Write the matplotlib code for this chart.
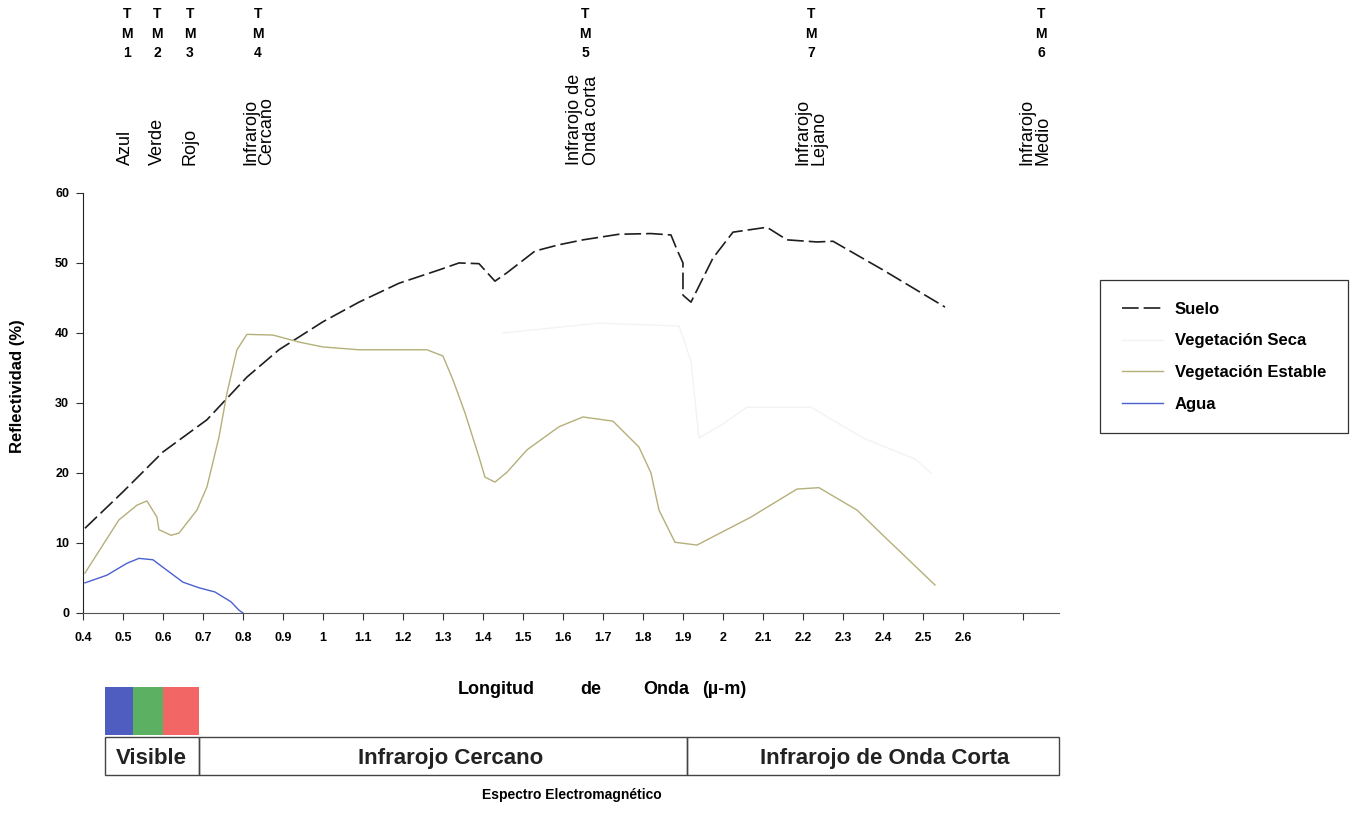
import matplotlib
matplotlib.use("Agg")
import matplotlib.pyplot as plt
from matplotlib.patches import Rectangle
from matplotlib.transforms import blended_transform_factory

# curvas de reflectividad
suelo_x = [0.405, 0.5, 0.6, 0.71, 0.81, 0.89, 1.0, 1.09, 1.19, 1.29, 1.34, 1.39, 1.43, 1.46, 1.53,
           1.59, 1.65, 1.74, 1.82, 1.87, 1.885, 1.9, 1.9, 1.92, 1.975, 2.025, 2.11, 2.16, 2.235,
           2.275, 2.4, 2.555]
suelo_y = [12.1, 17.3, 23.0, 27.6, 33.7, 37.6, 41.6, 44.4, 47.1, 49.0, 50.0, 49.9, 47.4, 48.6, 51.7,
           52.6, 53.3, 54.1, 54.2, 54.0, 51.9, 50.0, 45.4, 44.4, 50.7, 54.4, 55.1, 53.3, 53.0,
           53.1, 49.0, 43.7]

veg_seca_x = [1.45, 1.69, 1.89, 1.92, 1.94, 2.0, 2.06, 2.22, 2.35, 2.48, 2.52]
veg_seca_y = [40.0, 41.4, 41.0, 36.0, 25.0, 27.0, 29.4, 29.4, 25.0, 22.0, 20.0]

veg_est_x = [0.405, 0.49, 0.535, 0.56, 0.585, 0.59, 0.62, 0.64, 0.685, 0.71, 0.74, 0.76, 0.785,
             0.81, 0.875, 0.94, 1.0, 1.09, 1.26, 1.3, 1.325, 1.355, 1.39, 1.405, 1.43, 1.46, 1.51,
             1.59, 1.65, 1.725, 1.79, 1.82, 1.84, 1.88, 1.935, 2.07, 2.185, 2.24, 2.335, 2.4, 2.53]
veg_est_y = [5.7, 13.3, 15.4, 16.0, 13.7, 11.9, 11.1, 11.4, 14.7, 18.0, 25.1, 31.4, 37.6,
             39.8, 39.7, 38.7, 38.0, 37.6, 37.6, 36.7, 33.3, 28.6, 22.3, 19.4, 18.7, 20.1, 23.3,
             26.6, 28.0, 27.4, 23.7, 20.0, 14.7, 10.1, 9.7, 13.7, 17.7, 17.9, 14.7, 11.1, 4.0]

agua_x = [0.405, 0.46, 0.51, 0.54, 0.575, 0.61, 0.65, 0.69, 0.73, 0.77, 0.79, 0.8]
agua_y = [4.3, 5.4, 7.1, 7.8, 7.6, 6.1, 4.4, 3.6, 3.0, 1.6, 0.4, 0.0]

# ejes
xticks = [0.4, 0.5, 0.6, 0.7, 0.8, 0.9, 1.0, 1.1, 1.2, 1.3, 1.4, 1.5, 1.6, 1.7, 1.8, 1.9,
          2.0, 2.1, 2.2, 2.3, 2.4, 2.5, 2.6, 2.75]
xtick_labels = ["0.4", "0.5", "0.6", "0.7", "0.8", "0.9", "1", "1.1", "1.2", "1.3", "1.4", "1.5",
                "1.6", "1.7", "1.8", "1.9", "2", "2.1", "2.2", "2.3", "2.4", "2.5", "2.6", ""]
yticks = [0, 10, 20, 30, 40, 50, 60]

# bandas TM arriba
tm_labels = ["T\nM\n1", "T\nM\n2", "T\nM\n3", "T\nM\n4", "T\nM\n5", "T\nM\n7", "T\nM\n6"]
tm_x = [0.51, 0.585, 0.6675, 0.8375, 1.655, 2.22, 2.795]
region_labels = ["Azul", "Verde", "Rojo", "Infrarojo\nCercano", "Infrarojo de\nOnda corta",
                 "Infrarojo\nLejano", "Infrarojo\nMedio"]
region_x = [0.5075, 0.585, 0.668, 0.84, 1.65, 2.22, 2.78]

# titulo del eje x, palabras separadas
xlabel_words = ["Longitud", "de", "Onda", "(µ-m)"]
xlabel_px = [496, 591, 666, 724]

# espectro abajo
swatch_edges = [0.455, 0.525, 0.6, 0.69]
swatch_colors = ["#4f5cc0", "#5cb062", "#f26666"]
band_edges = [0.455, 0.69, 1.91, 2.84]
band_labels = ["Visible", "Infrarojo Cercano", "Infrarojo de Onda Corta"]
band_label_x = [0.57, 1.32, 2.405]

plt.rcParams["font.family"] = ["Liberation Sans", "DejaVu Sans"]

fig = plt.figure(figsize=(13.53, 8.26), dpi=100)
ax = fig.add_axes([0.0613, 0.2579, 0.7214, 0.5085])

ax.plot(suelo_x, suelo_y, color="#1e1e1e", lw=1.2, linestyle=(0, (10, 3)), label="Suelo")
ax.plot(veg_seca_x, veg_seca_y, color="#f3f3f3", lw=1.0, label="Vegetación Seca")
ax.plot(veg_est_x, veg_est_y, color="#b5af7a", lw=1.0, label="Vegetación Estable")
ax.plot(agua_x, agua_y, color="#4a60d0", lw=1.0, label="Agua")

ax.set_xlim(0.4, 2.84)
ax.set_ylim(0, 60)
ax.spines["top"].set_visible(False)
ax.spines["right"].set_visible(False)
ax.spines["left"].set_color("#222222")
ax.spines["bottom"].set_color("#555555")
ax.set_xticks(xticks)
ax.set_xticklabels(xtick_labels, fontsize=9, fontweight="bold")
ax.set_yticks(yticks)
ax.set_yticklabels([str(v) for v in yticks], fontsize=9, fontweight="bold")
ax.tick_params(axis="x", direction="out", length=5, pad=9, color="#333333")
ax.tick_params(axis="y", direction="out", length=5, pad=5, color="#333333")

leg = ax.legend(loc="upper left", bbox_to_anchor=(1100 / 1353, 1 - 280 / 826),
                bbox_transform=fig.transFigure, fancybox=False, edgecolor="#333333",
                framealpha=1, handlelength=2.5, handletextpad=0.7, labelspacing=1.0,
                borderpad=1.3, borderaxespad=0, prop={"size": 12, "weight": "bold"})
leg.get_frame().set_linewidth(0.9)

fig.text(18 / 1353, 1 - 386 / 826, "Reflectividad (%)", rotation=90, ha="center", va="center",
         fontsize=12, fontweight="bold")
for w, px in zip(xlabel_words, xlabel_px):
    fig.text(px / 1353, 1 - 690 / 826, w, ha="center", va="center", fontsize=13,
             fontweight="bold")

tr = blended_transform_factory(ax.transData, fig.transFigure)
for lab, x in zip(tm_labels, tm_x):
    fig.text(x, 1 - 7 / 826, lab, transform=tr, ha="center", va="top", fontsize=10,
             fontweight="bold", linespacing=1.5)
for lab, x in zip(region_labels, region_x):
    fig.text(x, 1 - 165 / 826, lab, transform=tr, ha="center", va="bottom", rotation=90,
             multialignment="left", fontsize=13, linespacing=0.95)

# colores visibles
for i, c in enumerate(swatch_colors):
    fig.patches.append(Rectangle((swatch_edges[i], 1 - 735 / 826),
                                 swatch_edges[i + 1] - swatch_edges[i], 48 / 826,
                                 transform=tr, facecolor=c, edgecolor="none"))

# barra del espectro
band_y0 = 1 - 775 / 826
band_h = 38 / 826
for i, lab in enumerate(band_labels):
    fig.patches.append(Rectangle((band_edges[i], band_y0), band_edges[i + 1] - band_edges[i],
                                 band_h, transform=tr, facecolor="none",
                                 edgecolor="#444444", lw=1.0))
    fig.text(band_label_x[i], band_y0 + band_h / 2 - 0.003, lab, transform=tr,
             ha="center", va="center", fontsize=16, fontweight="bold", color="#222222")

fig.text(572 / 1353, 1 - 795 / 826, "Espectro Electromagnético", ha="center", va="center",
         fontsize=10, fontweight="bold")

fig.savefig("out.png", dpi=100)
